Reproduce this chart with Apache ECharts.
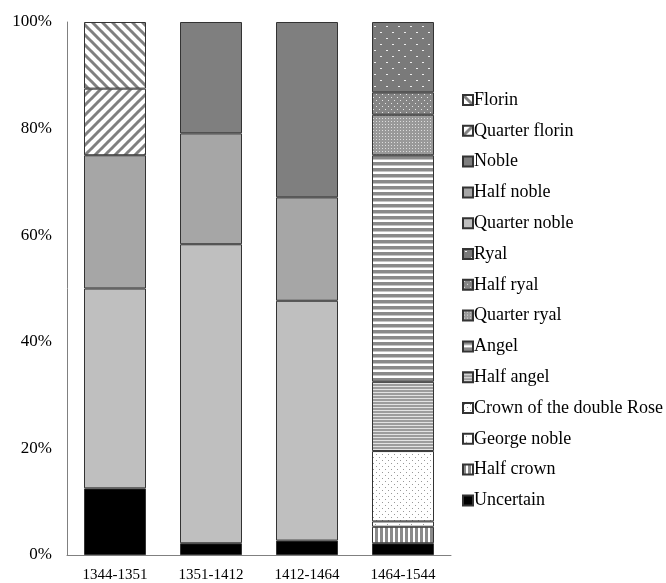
<!DOCTYPE html>
<html>
<head>
<meta charset="utf-8">
<script src="https://cdn.jsdelivr.net/npm/echarts@6/dist/echarts.min.js"></script>
<style>
html,body{margin:0;padding:0;background:#fff;}
#c{width:666px;height:583px;}
</style>
</head>
<body>
<div id="c"></div>
<script>
// ---- Data ----
const categories = ['1344-1351', '1351-1412', '1412-1464', '1464-1544'];
const yTicks = [0, 20, 40, 60, 80, 100];
const uncertain       = [12.5, 2.2, 2.7, 2.2];
const halfCrown       = [null, null, null, 3.1];
const georgeNoble     = [null, null, null, 1.0];
const crownDoubleRose = [null, null, null, 13.2];
const halfAngel       = [null, null, null, 13.0];
const angel           = [null, null, null, 42.5];
const quarterRyal     = [null, null, null, 7.6];
const halfRyal        = [null, null, null, 4.2];
const ryal            = [null, null, null, 13.2];
const quarterNoble    = [37.5, 56.1, 45.0, null];
const halfNoble       = [25.0, 20.8, 19.4, null];
const noble           = [null, 20.9, 32.9, null];
const quarterFlorin   = [12.5, null, null, null];
const florin          = [12.5, null, null, null];

// ---- Patterns ----
function pat(w, h, draw) {
  const c = document.createElement('canvas');
  c.width = w; c.height = h;
  const g = c.getContext('2d');
  draw(g, w, h);
  return { image: c, repeat: 'repeat' };
}
function diag(dir) {
  return pat(10, 10, (g) => {
    g.fillStyle = '#fff'; g.fillRect(0, 0, 10, 10);
    g.strokeStyle = '#808080'; g.lineWidth = 3;
    for (let k = -1; k <= 1; k++) {
      g.beginPath();
      if (dir > 0) { g.moveTo(k * 10 - 1, -1); g.lineTo(k * 10 + 11, 11); }
      else { g.moveTo(k * 10 - 1, 11); g.lineTo(k * 10 + 11, -1); }
      g.stroke();
    }
  });
}
const P = {
  florin: diag(1),
  quarterFlorin: diag(-1),
  noble: '#7f7f7f',
  halfNoble: '#a6a6a6',
  quarterNoble: '#bfbfbf',
  ryal: pat(12, 12, (g) => {
    g.fillStyle = '#7a7a7a'; g.fillRect(0, 0, 12, 12);
    g.fillStyle = '#eeeeee'; g.fillRect(2, 2, 2, 1); g.fillRect(8, 8, 2, 1);
  }),
  halfRyal: pat(6, 6, (g) => {
    g.fillStyle = '#858585'; g.fillRect(0, 0, 6, 6);
    g.fillStyle = '#e6e6e6'; g.fillRect(1, 1, 1, 1); g.fillRect(4, 4, 1, 1);
  }),
  quarterRyal: pat(3, 3, (g) => {
    g.fillStyle = '#999'; g.fillRect(0, 0, 3, 3);
    g.fillStyle = '#dcdcdc'; g.fillRect(1, 1, 1, 1);
  }),
  angel: pat(1, 6, (g) => {
    g.fillStyle = '#fff'; g.fillRect(0, 0, 1, 6);
    g.fillStyle = '#8a8a8a'; g.fillRect(0, 0, 1, 3);
    g.fillStyle = '#c4c4c4'; g.fillRect(0, 3, 1, 1);
  }),
  halfAngel: pat(1, 3, (g) => {
    g.fillStyle = '#e2e2e2'; g.fillRect(0, 0, 1, 3);
    g.fillStyle = '#9c9c9c'; g.fillRect(0, 0, 1, 2);
  }),
  crownDoubleRose: pat(6, 6, (g) => {
    g.fillStyle = '#fff'; g.fillRect(0, 0, 6, 6);
    g.fillStyle = '#999'; g.fillRect(1, 1, 1, 1); g.fillRect(4, 4, 1, 1);
  }),
  georgeNoble: pat(12, 6, (g) => {
    g.fillStyle = '#fff'; g.fillRect(0, 0, 12, 6);
    g.fillStyle = '#999'; g.fillRect(3, 2, 1, 1);
  }),
  halfCrown: pat(5, 1, (g) => {
    g.fillStyle = '#fff'; g.fillRect(0, 0, 5, 1);
    g.fillStyle = '#8a8a8a'; g.fillRect(0, 0, 3, 1);
  }),
  uncertain: '#000'
};

const seriesDefs = [
  ['Uncertain', uncertain, P.uncertain],
  ['Half crown', halfCrown, P.halfCrown],
  ['George noble', georgeNoble, P.georgeNoble],
  ['Crown of the double Rose', crownDoubleRose, P.crownDoubleRose],
  ['Half angel', halfAngel, P.halfAngel],
  ['Angel', angel, P.angel],
  ['Quarter ryal', quarterRyal, P.quarterRyal],
  ['Half ryal', halfRyal, P.halfRyal],
  ['Ryal', ryal, P.ryal],
  ['Quarter noble', quarterNoble, P.quarterNoble],
  ['Half noble', halfNoble, P.halfNoble],
  ['Noble', noble, P.noble],
  ['Quarter florin', quarterFlorin, P.quarterFlorin],
  ['Florin', florin, P.florin]
];

const serif = '"Liberation Serif", "Times New Roman", serif';
const chart = echarts.init(document.getElementById('c'), null, { renderer: 'canvas' });
chart.setOption({
  animation: false,
  backgroundColor: '#fff',
  grid: { left: 67, top: 22, width: 384, bottom: 27, containLabel: false },
  legend: {
    orient: 'vertical',
    left: 457, top: 86,
    itemWidth: 10, itemHeight: 10,
    itemGap: 12.8,
    icon: 'rect',
    data: seriesDefs.map(s => s[0]).reverse(),
    textStyle: { fontFamily: serif, fontSize: 18, color: '#000', padding: [0, 0, 0, -4] }
  },
  xAxis: {
    type: 'category',
    data: categories,
    axisTick: { show: false },
    axisLine: { lineStyle: { color: '#808080', width: 1 } },
    axisLabel: { fontFamily: serif, fontSize: 15, color: '#000', margin: 13 }
  },
  yAxis: {
    type: 'value',
    min: yTicks[0], max: yTicks[yTicks.length - 1], interval: 20,
    axisLine: { show: true, lineStyle: { color: '#808080', width: 1 } },
    axisTick: { show: false },
    splitLine: { show: false },
    axisLabel: { fontFamily: serif, fontSize: 17, color: '#000', margin: 15, formatter: '{value}%' }
  },
  series: seriesDefs.map(([name, data, color]) => ({
    name, type: 'bar', stack: 'total', data,
    barWidth: 62,
    itemStyle: { color, borderColor: '#333', borderWidth: 1 }
  }))
});
</script>
</body>
</html>
